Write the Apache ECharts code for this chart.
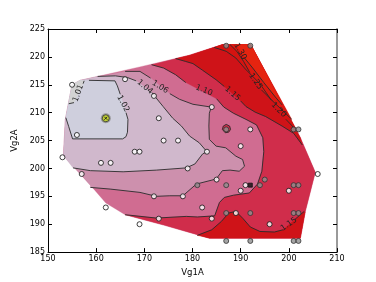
<!DOCTYPE html>
<html><head><meta charset="utf-8">
<script src="https://cdn.jsdelivr.net/npm/echarts@6/dist/echarts.min.js"></script>
<style>html,body{margin:0;padding:0;background:#fff}#c{width:376px;height:282px}</style>
</head><body><div id="c"></div>
<script>
// ---- data (Vg1A, Vg2A) ----
const xTicks = [150, 160, 170, 180, 190, 200, 210];
const yTicks = [185, 190, 195, 200, 205, 210, 215, 220, 225];
const hull = [
  [153.2,202.3],[153.6,208.8],[155,215],[156.7,215.8],[169,218.2],[179.4,220.3],
  [186.2,222.2],[192.1,222.2],[202.4,205.5],[205.5,199.3],[203.4,192.2],[202.4,187.5],
  [183.5,187.5],[174.2,189.8],[166,191.7],[162,193.8],[158.8,197]
];
const levels = ['1.01','1.02','1.04','1.06','1.10','1.15','1.20','1.25','1.30'];
const c101 = [[157.5,215.7],[157.3,215.2],null,[155.4,211.8],[154.3,211.6]];
const c102 = [[158.5,215.8],[163.9,215.7],[164.4,214.8],[165.0,213.3],null,[166.2,210.0],[166.6,208.8],[166.5,206.5],[166.2,205.7],[165.5,205.3],[160.8,205.3],[155.1,205.3],[154.3,207.5],[153.7,209.1]];
const c104 = [[160.3,216.5],[164,216.6],[166.5,216.3],[168.3,215.7],null,[171.6,213.6],[172.2,212.9],[173.9,211.1],[175.9,209],[177.7,207.6],[179.4,205.8],[181.4,204.6],[183,203],[182.1,202.6],[180.5,200.8],[178.7,200.1],[172.5,199.7],[165.6,199.4],[158.8,199.6],[155.2,200.1]];
const c106 = [[166,217.4],[169.1,217.4],[171.3,216.2],null,[175.3,213.4],[177.3,212.4],[180.1,211.5],[183.9,211],[183.5,209.9],[183.4,207.6],[183.5,205.2],[184.9,204],[186.9,203.7],[189,202.2],[190.4,201.6],[190.8,200.4],[189.7,199.5],[187.8,199.7],[186.2,199.6],[184.9,198.1],[180.8,197.2],[178,195.1],[175.3,195.1],[172.5,195],[169.1,195.7],[162.9,196.3],[158.8,196.6]];
const c110 = [[171.5,218.6],[174,218.0],[176.5,216.8],[178.6,215.4],null,[185.0,212.5],[186.5,211],[188.5,209.9],[191.1,208.8],[193.3,207.8],[194.6,205.5],[194.8,203],[194.4,199.5],[193.5,197.2],[191.8,195.6],[188.5,195.2],[186.6,194.8],[185.6,193.9],[184.6,191.5],[181,191.3],[178.7,191.4],[172.5,191.1],[166,191.7]];
const c110s = [[186.2,207],[186.4,207.6],[187,207.9],[187.7,207.6],[187.9,207],[187.5,206.5],[186.8,206.4],[186.2,207]];
const c115t = [[176.5,219.7],[178.5,219.2],[180.1,218.8],[182.1,217.6],[184.9,215.9],[186.6,214.7],null,[190,212.1],[191.1,211.1],[193,210.1],[195.2,209.3],[198.6,207.6],[201,206.3],[202.8,204.2]];
const c115b = [[181,188],[184,189],[186,190.5],[187.5,192],[189,192.3],[190.5,191],[192,189.5],[194,188.7],[197,188.6],[198.8,189.0],null,[201.3,190.9],[203.2,192.3]];
const c120 = [[184.5,221.7],[187,221],[189,219.8],[191,217.8],[194,215.2],[196.4,212.2],null,[199.4,208.8],[201.8,206.6]];
const c125 = [[187.8,222.2],[189.2,221],[190.6,219.2],[191.9,217.2],null,[194.3,214.1],[196.5,212.2],[198.8,210.3],[200.6,208.8]];
const c130 = [[189.1,222.2],[189.3,222.0],null,[190.7,219.9],[192.5,218.0],[194.8,215.4],[197.2,212.8],[198.6,211.4]];
const labelPos = [[156.3,213.5],[165.6,211.6],[170.1,214.6],[173.3,214.6],[182.4,214.0],[188.3,213.4],[197.9,210.5],[193.1,215.6],[189.9,221.0],[200.0,190.0]];
const labelText = ['1.01','1.02','1.04','1.06','1.10','1.15','1.20','1.25','1.30','1.15'];
const whitePts = [[155,215],[166,216],[172,213],[184,211],[173,209],[192,207],[156,206],[174,205],[177,205],[168,203],[169,203],[183,203],[190,204],[153,202],[161,201],[163,201],[179,200],[157,199],[206,199],[185,198],[191,197],[190,196],[200,196],[172,195],[178,195],[162,193],[182,193],[169,190],[196,190],[173,191],[184,191],[189,192]];
const grayPts = [[187,222],[192,222],[187,207],[201,207],[202,207],[181,197],[187,197],[194,197],[195,198],[201,197],[202,197],[187,192],[192,192],[201,192],[202,192],[187,187],[192,187],[201,187],[202,187]];
const squarePts = [[192,197]];
const bestPts = [[162,209]];

// ---- styles ----
const labelRot = [70,-62,-40,-32,-22,-42,-45,-55,-60,35];
const bandColors = {
  lt101:'#d3d3d3', b101:'#cfcfdd', b102:'#d0b8cc', b104:'#cd90ad', b106:'#d06c91',
  b110:'#d02d4b', b115:'#cf1318', b120:'#d51310', b125:'#dc1810', b130:'#e52410'
};
const clean = a => a.filter(p => p);
const hp = idx => idx.map(i => hull[i]);
const bands = [
  {pts: hull, color: bandColors.b106},
  {pts: clean(c110).concat(hp([13,12,11,10,9,8,7,6,5])), color: bandColors.b110},
  {pts: clean(c115t).concat(hp([8,7,6,5])), color: bandColors.b115},
  {pts: clean(c115b).concat(hp([10,11,12])), color: bandColors.b115},
  {pts: clean(c120).concat(hp([7,6])), color: bandColors.b120},
  {pts: clean(c125).concat(hp([7])), color: bandColors.b125},
  {pts: clean(c130).concat(hp([7])), color: bandColors.b130},
  {pts: c110s, color: bandColors.b110},
  {pts: clean(c106).concat(hp([16,0,1,2,3])), color: bandColors.b104},
  {pts: clean(c104).concat(hp([0,1,2,3])), color: bandColors.b102},
  {pts: clean(c102).concat(hp([2,3])), color: bandColors.b101},
  {pts: clean(c101).concat(hp([2,3])), color: bandColors.lt101}
];
const contourLines = [c101,c102,c104,c106,c110,c110s,c115t,c115b,c120,c125,c130];
function segments(line){
  const out=[]; let cur=[];
  line.forEach(p=>{ if(p){cur.push(p);} else { if(cur.length>1) out.push(cur); cur=[]; } });
  if(cur.length>1) out.push(cur);
  return out;
}

const chart = echarts.init(document.getElementById('c'));
const font = 'DejaVu Sans';
const axisBase = (extra) => Object.assign({
  type:'value', splitLine:{show:false},
  axisLine:{show:true, lineStyle:{color:'#000', width:1}},
  axisTick:{show:true, inside:true, length:4, lineStyle:{color:'#000', width:1}},
  axisLabel:{color:'#000', fontSize:8, fontFamily:font}
}, extra);
chart.setOption({
  animation:false,
  grid:{left:48, right:39, top:29, bottom:29},
  xAxis:[
    axisBase({min:xTicks[0], max:xTicks[xTicks.length-1], interval:10, position:'bottom',
      name:'Vg1A', nameLocation:'middle', nameGap:11, nameTextStyle:{color:'#000', fontSize:8.5, fontFamily:font},
      axisLabel:{color:'#000', fontSize:8, fontFamily:font, margin:3}}),
    axisBase({min:xTicks[0], max:xTicks[xTicks.length-1], interval:10, position:'top', axisLabel:{show:false}})
  ],
  yAxis:[
    axisBase({min:yTicks[0], max:yTicks[yTicks.length-1], interval:5, position:'left',
      name:'Vg2A', nameLocation:'middle', nameGap:17, nameTextStyle:{color:'#000', fontSize:8.5, fontFamily:font},
      axisLabel:{color:'#000', fontSize:8, fontFamily:font, margin:3}}),
    axisBase({min:yTicks[0], max:yTicks[yTicks.length-1], interval:5, position:'right', axisLabel:{show:false},
      axisLine:{show:true, lineStyle:{color:'#9a9a9a', width:2}}})
  ],
  series:[
    {type:'custom', coordinateSystem:'cartesian2d', clip:true, z:1,
     data: bands.map(b => b.pts[0]),
     renderItem:(params, api) => {
       const b = bands[params.dataIndex];
       return {type:'polygon', shape:{points:b.pts.map(p => api.coord(p))}, style:{fill:b.color, stroke:b.color, lineWidth:0.3}};
     }},
    {type:'custom', coordinateSystem:'cartesian2d', clip:true, z:2,
     data: contourLines.map(l => clean(l)[0]),
     renderItem:(params, api) => {
       const segs = segments(contourLines[params.dataIndex]);
       return {type:'group', children: segs.map(s => ({type:'polyline', shape:{points:s.map(p => api.coord(p))},
         style:{stroke:'#2a2a2a', lineWidth:0.9, fill:null}}))};
     }},
    {type:'custom', coordinateSystem:'cartesian2d', z:3,
     data: labelPos,
     renderItem:(params, api) => {
       const p = api.coord(labelPos[params.dataIndex]);
       return {type:'text', x:p[0], y:p[1], rotation: labelRot[params.dataIndex]*Math.PI/180,
         style:{text: labelText[params.dataIndex], fill:'#222', fontSize:8, fontFamily:font, align:'center', verticalAlign:'middle'}};
     }},
    {type:'scatter', data: whitePts, symbol:'circle', symbolSize:5, z:4,
     itemStyle:{color:'#fff', borderColor:'#111', borderWidth:1}},
    {type:'scatter', data: grayPts, symbol:'circle', symbolSize:5, z:4,
     itemStyle:{color:'#8f8f8f', borderColor:'#333', borderWidth:1}},
    {type:'scatter', data: squarePts, symbol:'rect', symbolSize:4, z:4,
     itemStyle:{color:'#111', borderColor:'#111', borderWidth:1}},
    {type:'scatter', data: bestPts, symbol:'circle', symbolSize:10, z:4,
     itemStyle:{color:'#8a8a8a', borderColor:'#8a8a8a', borderWidth:0}},
    {type:'scatter', data: bestPts, symbol:'circle', symbolSize:7, z:5,
     itemStyle:{color:'#c9dc1c', borderColor:'#333', borderWidth:1}},
    {type:'scatter', data: bestPts, symbol:'path://M0,0L10,10M10,0L0,10', symbolSize:3, z:6,
     itemStyle:{color:'none', borderColor:'#111', borderWidth:1}}
  ]
});
</script></body></html>
